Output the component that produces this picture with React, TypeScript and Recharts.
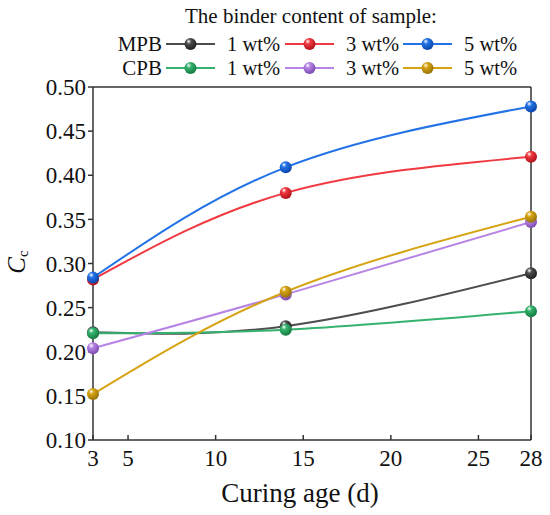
import React from 'react';
import { LineChart, Line, XAxis, YAxis, ReferenceLine } from 'recharts';

// curing ages (d)
const ages = [3, 14, 28];

// C_c values
const mpb1 = [0.222, 0.229, 0.289];
const mpb3 = [0.282, 0.380, 0.421];
const mpb5 = [0.284, 0.409, 0.478];
const cpb1 = [0.221, 0.225, 0.246];
const cpb3 = [0.204, 0.265, 0.347];
const cpb5 = [0.152, 0.268, 0.353];

const xTicks = [3, 5, 10, 15, 20, 25, 28];
const yTicks = [0.1, 0.15, 0.2, 0.25, 0.3, 0.35, 0.4, 0.45, 0.5];

const series = [
  { key: 'mpb1', group: 'MPB', label: '1 wt%', values: mpb1, color: '#4d4d4d', dark: '#1e1e1e' },
  { key: 'mpb3', group: 'MPB', label: '3 wt%', values: mpb3, color: '#f03a42', dark: '#b01018' },
  { key: 'mpb5', group: 'MPB', label: '5 wt%', values: mpb5, color: '#2373e6', dark: '#0a44a8' },
  { key: 'cpb1', group: 'CPB', label: '1 wt%', values: cpb1, color: '#35b36e', dark: '#137a40' },
  { key: 'cpb3', group: 'CPB', label: '3 wt%', values: cpb3, color: '#b784e6', dark: '#7a48ad' },
  { key: 'cpb5', group: 'CPB', label: '5 wt%', values: cpb5, color: '#d6a312', dark: '#94700a' },
];

const data = ages.map((x, i) => {
  const row: Record<string, number> = { x };
  series.forEach(s => { row[s.key] = s.values[i]; });
  return row;
});

const FONT = '"Liberation Serif", "Times New Roman", serif';
const AXIS = '#333333';

function Gradients() {
  return (
    <defs>
      {series.map(s => (
        <radialGradient key={s.key} id={`ball-${s.key}`} cx="38%" cy="32%" r="70%" fx="35%" fy="28%">
          <stop offset="0%" stopColor="#ffffff" />
          <stop offset="30%" stopColor={s.color} />
          <stop offset="100%" stopColor={s.dark} />
        </radialGradient>
      ))}
    </defs>
  );
}

const ballDot = (id: string) => (props: any) => {
  const { cx, cy, index } = props;
  if (cx == null || cy == null) return <g key={index} />;
  return <circle key={index} cx={cx} cy={cy} r={6} fill={`url(#ball-${id})`} />;
};

// two-row legend drawn above the plot, like the original figure
function LegendBox() {
  const groups = ['MPB', 'CPB'];
  const rowY = [44, 68];
  const starts = [166, 285, 403];
  return (
    <svg width={550} height={85} style={{ position: 'absolute', left: 0, top: 0 }}>
      <text x={311} y={23} textAnchor="middle" fontFamily={FONT} fontSize={21} fill="#111">
        The binder content of sample:
      </text>
      {groups.map((g, gi) => (
        <g key={g}>
          <text x={162} y={rowY[gi] + 7} textAnchor="end" fontFamily={FONT} fontSize={21} fill="#111">{g}</text>
          {series.filter(s => s.group === g).map((s, i) => (
            <g key={s.key}>
              <line x1={starts[i]} x2={starts[i] + 49} y1={rowY[gi]} y2={rowY[gi]} stroke={s.color} strokeWidth={2} />
              <circle cx={starts[i] + 24.5} cy={rowY[gi]} r={6} fill={`url(#ball-${s.key})`} />
              <text x={starts[i] + 61} y={rowY[gi] + 7} fontFamily={FONT} fontSize={20.5} fill="#111">{s.label}</text>
            </g>
          ))}
        </g>
      ))}
    </svg>
  );
}

export default function App() {
  return (
    <div style={{ position: 'absolute', left: 0, top: 0, width: 550, height: 515, background: '#fff' }}>
      <LineChart width={550} height={515} data={data} margin={{ top: 87, right: 19, bottom: 35, left: 33 }}>
        <Gradients />
        <XAxis
          dataKey="x"
          type="number"
          domain={[3, 28]}
          ticks={xTicks}
          interval={0}
          height={40}
          stroke={AXIS}
          strokeWidth={1.5}
          tickSize={-5}
          tickMargin={15}
          tick={{ fontFamily: FONT, fontSize: 23, fill: '#111' }}
          label={{
            content: () => (
              <text x={300} y={502} textAnchor="middle" fontFamily={FONT} fontSize={27} fill="#111">
                Curing age (d)
              </text>
            ),
          }}
        />
        <YAxis
          type="number"
          domain={[0.1, 0.5]}
          ticks={yTicks}
          interval={0}
          width={60}
          stroke={AXIS}
          strokeWidth={1.5}
          tickSize={5}
          tickMargin={2}
          tickFormatter={(v: number) => v.toFixed(2)}
          tick={{ fontFamily: FONT, fontSize: 23, fill: '#111' }}
          label={{
            content: () => (
              <text transform="translate(25,262) rotate(-90)" textAnchor="middle" fontFamily={FONT} fontSize={25} fill="#111">
                <tspan fontStyle="italic">C</tspan>
                <tspan fontSize={15} dy={3}>c</tspan>
              </text>
            ),
          }}
        />
        <ReferenceLine y={0.5} stroke={AXIS} strokeWidth={1.5} />
        <ReferenceLine x={28} stroke={AXIS} strokeWidth={1.5} />
        {series.map(s => (
          <Line
            key={s.key}
            type="natural"
            dataKey={s.key}
            stroke={s.color}
            strokeWidth={2}
            dot={ballDot(s.key)}
            activeDot={false}
            isAnimationActive={false}
          />
        ))}
      </LineChart>
      <LegendBox />
    </div>
  );
}
